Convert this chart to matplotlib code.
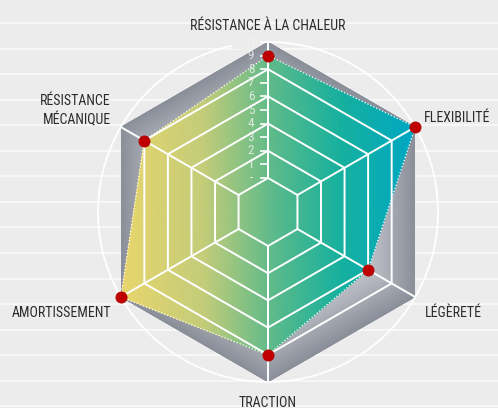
import numpy as np
import matplotlib
matplotlib.use("Agg")
import matplotlib.pyplot as plt
from matplotlib import font_manager
from matplotlib.colors import LinearSegmentedColormap, Normalize
from matplotlib.path import Path
from matplotlib.markers import TICKLEFT

# ---------------- data ----------------
categories = ["RÉSISTANCE À LA CHALEUR", "FLEXIBILITÉ", "LÉGÈRETÉ",
              "TRACTION", "AMORTISSEMENT", "RÉSISTANCE\nMÉCANIQUE"]
values = [9, 10, 6, 8, 10, 8]
r_ticks = [0, 1, 2, 3, 4, 5, 6, 7, 8, 9, 10]
r_tick_labels = ["-", "1", "2", "3", "4", "5", "6", "7", "8", "9", "10"]
grid_levels = [0, 2, 4, 6, 8]
r_max = 10

# ---------------- fonts ----------------
names = {f.name for f in font_manager.fontManager.ttflist}
family = "DejaVu Sans"
for cand in ["Liberation Sans Narrow", "Roboto Condensed", "DejaVu Sans Condensed"]:
    if cand in names:
        family = cand
        break
plt.rcParams["font.family"] = [family, "DejaVu Sans"]

W, H = 498, 408
fig = plt.figure(figsize=(W / 100, H / 100), dpi=100)
fig.patch.set_facecolor("#ececec")

# hole used to mask lines behind the radial tick labels
def fp(x, y):
    return (x / W, 1 - y / H)

outer = [(0, 0), (1, 0), (1, 1), (0, 1), (0, 0)]
hole = [fp(232, 36), fp(266, 36), fp(266, 172), fp(239, 172), fp(239, 49), fp(232, 49), fp(232, 36)]
verts = outer + hole
codes = ([Path.MOVETO] + [Path.LINETO] * 3 + [Path.CLOSEPOLY]) + \
        ([Path.MOVETO] + [Path.LINETO] * 5 + [Path.CLOSEPOLY])
mask_path = Path(verts, codes)

# ---------------- background stripes ----------------
bg = fig.add_axes([0, 0, 1, 1], zorder=0)
bg.set_xlim(0, W)
bg.set_ylim(H, 0)
bg.set_facecolor("#ececec")
bg.axis("off")
for yy in np.arange(23, H + 1, 25.55):
    ln = bg.axhline(yy, color="#fbfbfb", lw=1.1)
    ln.set_clip_path(mask_path, fig.transFigure)

# ---------------- polar axes ----------------
ax = fig.add_axes([98 / W, 26 / H, 340 / W, 340 / H], projection="polar", zorder=2)
ax.set_theta_offset(np.pi / 2)
ax.set_theta_direction(-1)
ax.set_rorigin(-2.5)
ax.patch.set_visible(False)
ax.grid(False)

N = len(categories)
theta = np.arange(N) * 2 * np.pi / N
theta_c = np.r_[theta, theta[0]]
vals_c = np.r_[values, values[0]]

# mesh for gradients
tt = np.linspace(0, 2 * np.pi, 721)
rr = np.linspace(-2.5, r_max, 160)
T, R = np.meshgrid(tt, rr)
Reff = R + 2.5
phi = np.deg2rad(np.mod(np.rad2deg(T), 60) - 30)
hexd = Reff * np.cos(phi)
xpos = Reff * np.sin(T)

gray_cmap = LinearSegmentedColormap.from_list("g", ["#cbcdd2", "#aeb1b9", "#8a8f99"])
grad_cmap = LinearSegmentedColormap.from_list(
    "c", [(0, "#e9d66c"), (0.28, "#c4cd79"), (0.52, "#5cba8b"), (0.75, "#16b09f"), (1, "#00a8c4")])

hex_patch = ax.fill(theta_c, np.full(N + 1, r_max), color="none", lw=0, clip_on=False)[0]
m1 = ax.pcolormesh(T, R, hexd, cmap=gray_cmap, norm=Normalize(6.5, 10.83), shading="gouraud")
m1.set_clip_path(hex_patch)

data_patch = ax.fill(theta_c, vals_c, color="none", lw=0, clip_on=False)[0]
xs = (np.array(values) + 2.5) * np.sin(theta)
m2 = ax.pcolormesh(T, R, xpos, cmap=grad_cmap, norm=Normalize(xs.min(), xs.max()), shading="gouraud")
m2.set_clip_path(data_patch)

# hexagonal grid and spokes
for lvl in grid_levels:
    g, = ax.plot(theta_c, np.full(N + 1, lvl), color="white", lw=1.4, clip_on=False, zorder=3)
    g.set_clip_path(mask_path, fig.transFigure)
for th in theta:
    ax.plot([th, th], [0, r_max], color="white", lw=1.4, clip_on=False, zorder=3)

# data outline and points
ax.plot(theta_c, vals_c, color="white", lw=0.9, ls=(0, (1, 1.6)), clip_on=False, zorder=4)
ax.plot(theta, values, "o", color="#c00000", ms=8, mec="#b00000", mew=0.6, clip_on=False, zorder=5)

# radial ticks
ax.plot(np.zeros(len(r_ticks)), r_ticks, ls="none", marker=TICKLEFT, ms=5.5, mew=1.2,
        color="white", clip_on=False, zorder=4)
for v, lab in zip(r_ticks, r_tick_labels):
    ax.annotate(lab, (0, v), xytext=(-17, 0), textcoords="offset pixels", ha="center", va="center",
                fontsize=9.5, color="#f4f4f4", alpha=0.8, annotation_clip=False, zorder=4)

# category labels
label_style = [
    dict(xytext=(0, 12), ha="center"),
    dict(xytext=(9, 5), ha="left"),
    dict(xytext=(10, -20), ha="left"),
    dict(xytext=(0, -25), ha="center"),
    dict(xytext=(-9, -20), ha="right"),
    dict(xytext=(-10, 3), ha="right"),
]
for th, lab, st in zip(theta, categories, label_style):
    ax.annotate(lab, (th, r_max), xytext=st["xytext"], textcoords="offset pixels",
                ha=st["ha"], va="baseline", multialignment=st["ha"], fontsize=10,
                color="#2b2b2b", annotation_clip=False, linespacing=1.35)

ax.set_xticks([])
ax.set_yticks([])
ax.set_ylim(0, r_max)
ax.spines["polar"].set_color("white")
ax.spines["polar"].set_linewidth(1.3)
ax.spines["polar"].set_clip_path(mask_path, fig.transFigure)
for name, sp in ax.spines.items():
    if name != "polar":
        sp.set_edgecolor("none")
        sp.set_linewidth(0)

fig.savefig("out.png", dpi=100, facecolor=fig.get_facecolor())
